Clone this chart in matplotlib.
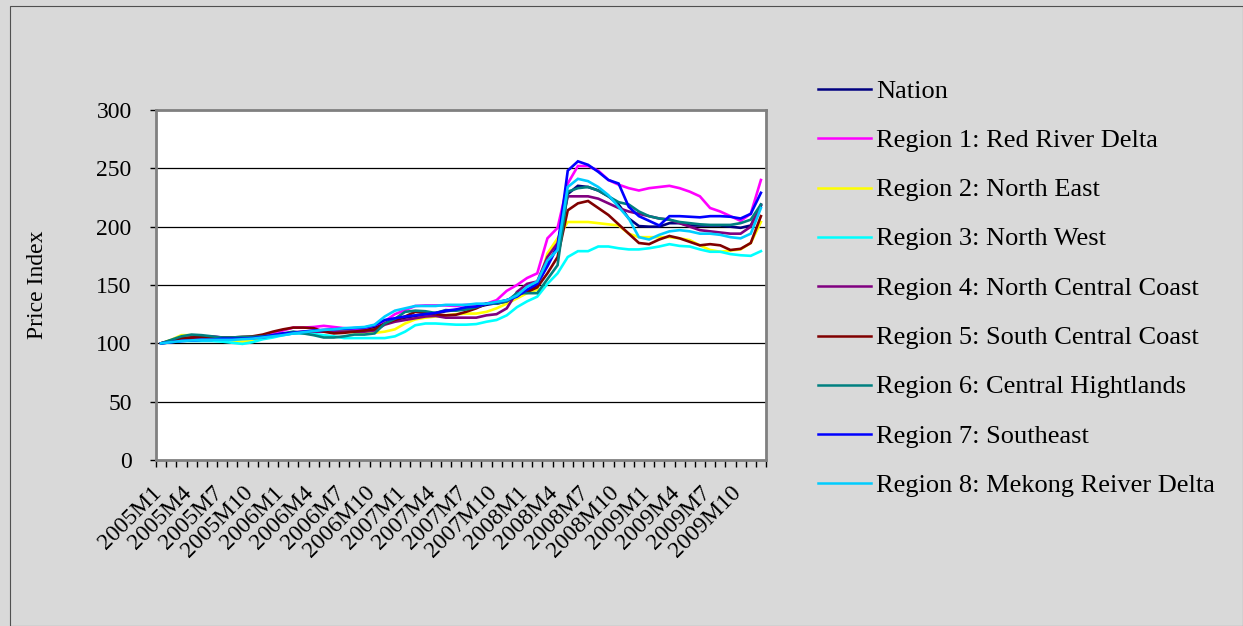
import matplotlib
matplotlib.use("Agg")
import matplotlib.pyplot as plt
from matplotlib.patches import Rectangle
from matplotlib.lines import Line2D

plt.rcParams['font.family'] = ['Liberation Serif', 'DejaVu Serif']

months = [f"{y}M{m}" for y in range(2005, 2010) for m in range(1, 13)]
tick_labels = [months[i] if i % 3 == 0 else "" for i in range(len(months))]

nation = [100, 101, 102.5, 103, 103, 103, 103.5, 103.5, 104, 104.5,
          105, 106, 107.5, 108.5, 109, 110, 110.5, 111, 111.5, 112,
          112.5, 114, 118, 120, 122, 123.5, 125, 126, 127.5, 128.5,
          130, 131, 133, 134.5, 137, 140, 145, 150, 168, 183,
          228, 235, 234, 231, 226, 219, 207, 200.5, 200, 200,
          203, 203, 201, 201, 201, 201, 200, 199, 201, 218]
region1 = [100, 102, 104, 105, 105.5, 106, 105, 104.5, 104.5, 105,
           106, 108, 111, 113.5, 113.5, 114, 115, 114, 113, 112.5,
           113, 115.5, 119, 125, 128.5, 132, 132.5, 132.5, 132.5, 132,
           133, 133, 134, 137, 145, 150, 156, 160, 190, 199,
           237, 252, 252, 248, 240, 236, 233, 231, 233, 234,
           235, 233, 230, 226, 216, 213, 209, 205, 211, 240]
region2 = [100, 103, 107, 107, 106, 105, 104, 102.5, 101.5, 102,
           104, 106, 108, 109, 109.5, 110, 110.5, 110.5, 110, 109.5,
           109, 109, 110, 112, 117, 120.5, 122, 123, 124, 125,
           125.5, 125.5, 127, 130, 134, 138.5, 143, 146, 177, 190,
           204, 204, 204, 203, 202, 201, 194, 191, 191, 191,
           191, 190, 188.5, 184, 180, 178.5, 179.5, 180.5, 186, 204]
region3 = [100, 101.5, 102, 102, 102, 102, 101.5, 100.5, 99.5, 101,
           103.5, 105, 107, 108.5, 108.5, 108, 107, 106, 104.5, 104.5,
           104.5, 104.5, 104.5, 106, 110, 115.5, 117, 117, 116.5, 116,
           116, 116.5, 118.5, 120, 124, 131, 136, 140, 151, 160,
           174, 179, 179, 183, 183, 181.5, 180.5, 180.5, 181.5, 183,
           185, 183.5, 183, 180.5, 178.5, 178.5, 176.5, 175.5, 175, 179]
region4 = [100, 102, 104, 105, 105, 104.5, 104, 104, 104, 104.5,
           105, 106.5, 108, 109.5, 110, 110, 110, 110, 110, 110,
           110, 111, 116, 118.5, 120, 121.5, 123, 123.5, 122, 122,
           122, 122, 124, 125, 130, 144, 151, 153, 174, 186,
           226, 226, 226, 224, 220, 216, 213, 211, 209, 207,
           206, 203, 200, 197, 196, 195, 194, 194, 200, 219]
region5 = [100, 102.5, 104.5, 105, 105.5, 105.5, 105, 105, 105.5, 106,
           107.5, 110, 112, 113.5, 113.5, 113, 110, 108.5, 109, 110,
           111, 112, 117, 120, 123, 127, 126, 125, 124, 124.5,
           127, 130, 134, 134, 136, 142, 144, 148, 160, 174,
           214, 220, 222, 216, 210, 202, 194, 186, 185, 189,
           192, 190, 187, 184, 185, 184, 180, 181, 186, 209]
region6 = [100, 103, 106, 107.5, 107, 106, 105, 105, 105.5, 105.5,
           106, 107, 108.5, 110, 108.5, 107, 105, 105, 106, 107.5,
           107.5, 108.5, 117, 121, 127, 128, 127.5, 126, 128.5, 128,
           129, 131, 134, 134, 136, 143, 143, 143, 155, 167,
           230, 233, 234, 231, 226, 221, 219, 213, 209, 207,
           206, 204, 203, 202, 201.5, 201.5, 201.5, 203, 206, 219]
region7 = [100, 101, 102, 102.5, 103, 103, 104, 104, 104, 104.5,
           105.5, 107, 108.5, 109, 110, 111, 111.5, 112, 112.5, 113,
           113.5, 115.5, 120, 121.5, 123, 124, 125, 126, 128, 129,
           131, 131.5, 134, 135, 137, 140, 146, 151, 166, 183,
           248, 256, 253, 247, 240, 237, 217, 209, 205, 201,
           209, 209, 208.5, 208, 209, 209, 208.5, 207, 211, 229]
region8 = [100, 101, 102, 102.5, 103, 103, 103, 103, 103.5, 104,
           105, 106, 107, 108.5, 109.5, 110.5, 111.5, 112, 113, 113.5,
           114, 116, 123, 128, 130, 132, 132, 132, 133, 133,
           133, 134, 134, 135.5, 137, 141, 148.5, 153, 171, 180,
           234, 241, 239, 234, 227, 217, 207, 191, 189, 193,
           196, 197, 196, 194, 194, 193, 191, 190, 194, 216]

series_names = ["Nation", "Region 1: Red River Delta", "Region 2: North East",
                "Region 3: North West", "Region 4: North Central Coast",
                "Region 5: South Central Coast", "Region 6: Central Hightlands",
                "Region 7: Southeast", "Region 8: Mekong Reiver Delta"]
series_values = [nation, region1, region2, region3, region4, region5,
                 region6, region7, region8]
colors = ["#000080", "#FF00FF", "#FFFF00", "#00FFFF", "#800080",
          "#800000", "#008080", "#0000FF", "#00CCFF"]

W, H = 1243, 626
fig = plt.figure(figsize=(W / 100, H / 100), dpi=100)
fig.patch.set_facecolor("#D9D9D9")
fig.add_artist(Rectangle((10.5 / W, 0), (W - 10.5) / W, 1 - 5.5 / H,
                         transform=fig.transFigure, fill=False,
                         edgecolor="#505050", linewidth=0.8))

L, R, T, B = 156, 766, 110, 460
ax = fig.add_axes([L / W, 1 - B / H, (R - L) / W, (B - T) / H])
ax.set_facecolor("white")

x = list(range(len(months)))
for vals, c in zip(series_values, colors):
    ax.plot(x, vals, color=c, linewidth=1.9, solid_joinstyle="miter")

ax.set_xlim(-0.5, len(months) - 0.5)
ax.set_ylim(0, 300)
ax.set_yticks(range(0, 301, 50))
ax.tick_params(axis="y", labelsize=17, length=4.5, width=1, direction="out", pad=13)
for yv in range(50, 300, 50):
    ax.axhline(yv, color="black", linewidth=0.9, zorder=0)

# tick marks between categories, labels at categories
ax.set_xticks([i - 0.5 for i in range(len(months) + 1)])
ax.set_xticklabels([""] * (len(months) + 1))
ax.tick_params(axis="x", length=5, width=1, direction="out")
for i, lab in enumerate(tick_labels):
    if lab:
        ax.text(i - 1.0, -19, lab, rotation=45, ha="right", va="top",
                rotation_mode="anchor", fontsize=17)

for s in ax.spines.values():
    s.set_color("#808080")
    s.set_linewidth(2)

ax.set_ylabel("Price Index", fontsize=17)
ax.yaxis.set_label_coords((48 - L) / (R - L), 0.5)

# legend drawn in figure pixel positions
for k, (name, c) in enumerate(zip(series_names, colors)):
    yp = 1 - (89 + 49.3 * k) / H
    fig.add_artist(Line2D([818 / W, 871 / W], [yp, yp], color=c,
                          linewidth=1.8, transform=fig.transFigure))
    fig.text(876 / W, yp, name, fontsize=19, ha="left", va="center_baseline")

fig.savefig("out.png", dpi=100, facecolor=fig.get_facecolor())
